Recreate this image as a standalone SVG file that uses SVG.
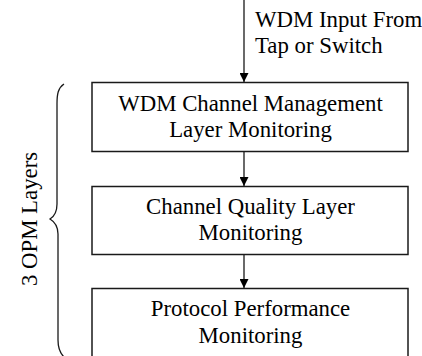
<svg xmlns="http://www.w3.org/2000/svg" width="422" height="356" viewBox="0 0 422 356">
  <style>
    .box { fill: #fff; stroke: #1a1a1a; stroke-width: 1.5; }
    .lbl { font-family: "Liberation Serif", "Times New Roman", serif; font-size: 22.8px; fill: #000; }
    .mid { text-anchor: middle; }
    .wire { stroke: #1a1a1a; stroke-width: 1.3; fill: none; }
  </style>
  <defs>
    <marker id="arrow" viewBox="0 0 10 10" refX="10" refY="5" markerWidth="9" markerHeight="9" markerUnits="userSpaceOnUse" orient="auto">
      <path d="M0,0 L10,5 L0,10 Z" fill="#000"/>
    </marker>
  </defs>
  <rect width="422" height="356" fill="#fff"/>

  <g id="input-label">
    <text class="lbl" x="255" y="27">WDM Input From</text>
    <text class="lbl" x="255" y="53">Tap or Switch</text>
  </g>

  <g id="wdm-channel-management">
    <rect class="box" x="92" y="82.5" width="316" height="69"/>
    <text class="lbl mid" x="250.5" y="111">WDM Channel Management</text>
    <text class="lbl mid" x="250.5" y="137">Layer Monitoring</text>
  </g>

  <g id="channel-quality">
    <rect class="box" x="92" y="186.5" width="316" height="68"/>
    <text class="lbl mid" x="250.5" y="214">Channel Quality Layer</text>
    <text class="lbl mid" x="250.5" y="240">Monitoring</text>
  </g>

  <g id="protocol-performance">
    <rect class="box" x="92" y="288.5" width="316" height="80"/>
    <text class="lbl mid" x="250.5" y="316">Protocol Performance</text>
    <text class="lbl mid" x="250.5" y="343">Monitoring</text>
  </g>

  <g id="layers-brace">
    <path class="wire" d="M64,84 C58,88 57,94 57,104 L57,204 C57,212 55,216 50,219 C55,222 58,226 58,234 L58,340 C58,348 60,353 64,357"/>
    <text class="lbl mid" transform="translate(37,219) rotate(-90)">3 OPM Layers</text>
  </g>

  <g id="connectors">
    <line class="wire" x1="244" y1="0" x2="244" y2="82" marker-end="url(#arrow)"/>
    <line class="wire" x1="244" y1="152" x2="244" y2="186" marker-end="url(#arrow)"/>
    <line class="wire" x1="244" y1="255" x2="244" y2="288" marker-end="url(#arrow)"/>
  </g>
</svg>
